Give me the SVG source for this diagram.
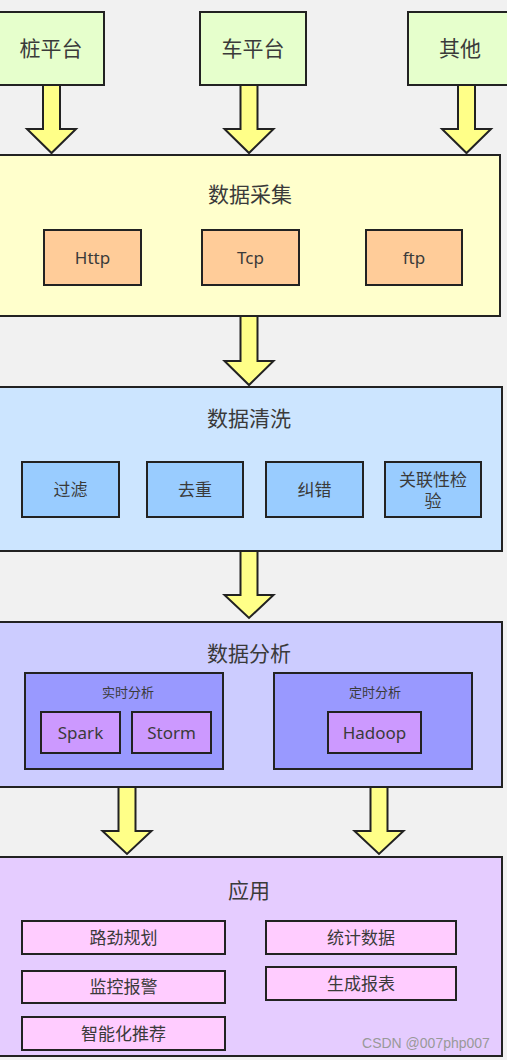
<svg xmlns="http://www.w3.org/2000/svg" width="507" height="1060" viewBox="0 0 507 1060">
<style>
text{font-family:"Noto Sans","Noto Sans CJK SC",sans-serif;fill:#3a3a3a;text-anchor:middle}
.b{stroke:#222;stroke-width:2}
.src{fill:#e6ffcc}
.l1{fill:#ffffcc}.s1{fill:#ffcc99}
.l2{fill:#cce5ff}.s2{fill:#99ccff}
.l3{fill:#ccccff}.i3{fill:#9999ff}.s3{fill:#cc99ff}
.l4{fill:#e5ccff}.s4{fill:#ffccff}
.t20{font-size:21px}.t17{font-size:17px}.t13{font-size:13px}
.arrow{fill:#ffff88;stroke:#222;stroke-width:2;stroke-linejoin:miter}
</style>
<rect width="507" height="1060" fill="#f1f1f1"/>
<g id="src1"><rect class="b src" x="-3" y="12" width="107" height="73"/><text class="t20" x="51" y="56">桩平台</text></g>
<g id="src2"><rect class="b src" x="200" y="12" width="106" height="73"/><text class="t20" x="253" y="56">车平台</text></g>
<g id="src3"><rect class="b src" x="408" y="12" width="104" height="73"/><text class="t20" x="460" y="56">其他</text></g>

<g id="collect">
<rect class="b l1" x="-3" y="155" width="503" height="161"/>
<text class="t20" x="250" y="202">数据采集</text>
<g id="http"><rect class="b s1" x="44" y="230" width="97" height="55"/><text class="t17" x="92.5" y="263.5">Http</text></g>
<g id="tcp"><rect class="b s1" x="202" y="230" width="97" height="55"/><text class="t17" x="250.5" y="263.5">Tcp</text></g>
<g id="ftp"><rect class="b s1" x="366" y="230" width="96" height="55"/><text class="t17" x="414" y="263.5">ftp</text></g>
</g>

<g id="clean">
<rect class="b l2" x="-3" y="387" width="505" height="164"/>
<text class="t20" x="249" y="426">数据清洗</text>
<g id="filter"><rect class="b s2" x="22" y="462" width="97" height="55"/><text class="t17" x="70.5" y="495.5">过滤</text></g>
<g id="dedup"><rect class="b s2" x="147" y="462" width="96" height="55"/><text class="t17" x="195" y="495.5">去重</text></g>
<g id="fix"><rect class="b s2" x="266" y="462" width="97" height="55"/><text class="t17" x="314.5" y="495.5">纠错</text></g>
<g id="assoc"><rect class="b s2" x="385" y="462" width="96" height="55"/><text class="t17" x="433" y="486">关联性检</text><text class="t17" x="433" y="507">验</text></g>
</g>

<g id="analyze">
<rect class="b l3" x="-3" y="622" width="505" height="165"/>
<text class="t20" x="249" y="661">数据分析</text>
<g id="realtime"><rect class="b i3" x="25" y="673" width="198" height="96"/><text class="t13" x="128" y="696.5">实时分析</text>
<g id="spark"><rect class="b s3" x="41" y="712" width="79" height="41"/><text class="t17" x="80.5" y="738.5">Spark</text></g>
<g id="storm"><rect class="b s3" x="132" y="712" width="79" height="41"/><text class="t17" x="171.5" y="738.5">Storm</text></g>
</g>
<g id="scheduled"><rect class="b i3" x="274" y="673" width="198" height="96"/><text class="t13" x="375" y="696.5">定时分析</text>
<g id="hadoop"><rect class="b s3" x="328" y="712" width="93" height="41"/><text class="t17" x="374.5" y="738.5">Hadoop</text></g>
</g>
</g>

<g id="app">
<rect class="b l4" x="-3" y="857" width="505" height="199"/>
<text class="t20" x="249" y="898">应用</text>
<g id="route"><rect class="b s4" x="22" y="921" width="203" height="33"/><text class="t17" x="123.5" y="943.5">路劲规划</text></g>
<g id="monitor"><rect class="b s4" x="22" y="971" width="203" height="32"/><text class="t17" x="123.5" y="993">监控报警</text></g>
<g id="recommend"><rect class="b s4" x="22" y="1017" width="203" height="33"/><text class="t17" x="123.5" y="1039.5">智能化推荐</text></g>
<g id="stats"><rect class="b s4" x="266" y="921" width="190" height="33"/><text class="t17" x="361" y="943.5">统计数据</text></g>
<g id="report"><rect class="b s4" x="266" y="967" width="190" height="33"/><text class="t17" x="361" y="989.5">生成报表</text></g>
</g>

<g id="connectors">
<path class="arrow" d="M43,85 L60,85 L60,129 L76,129 L51.5,153 L27,129 L43,129 Z"/>
<path class="arrow" d="M240.5,85 L257.5,85 L257.5,129 L273.5,129 L249,153 L224.5,129 L240.5,129 Z"/>
<path class="arrow" d="M458,85 L475,85 L475,129 L491,129 L466.5,153 L442,129 L458,129 Z"/>
<path class="arrow" d="M240.5,316 L257.5,316 L257.5,361 L273.5,361 L249,385 L224.5,361 L240.5,361 Z"/>
<path class="arrow" d="M240.5,551 L257.5,551 L257.5,595 L273.5,595 L249,618 L224.5,595 L240.5,595 Z"/>
<path class="arrow" d="M118.5,787 L135.5,787 L135.5,831 L151.5,831 L127,854 L102.5,831 L118.5,831 Z"/>
<path class="arrow" d="M370.5,787 L387.5,787 L387.5,831 L403.5,831 L379,854 L354.5,831 L370.5,831 Z"/>
</g>
<text x="426" y="1048" style="font-family:'Liberation Sans',sans-serif;font-size:14px;fill:#999">CSDN @007php007</text>
</svg>
